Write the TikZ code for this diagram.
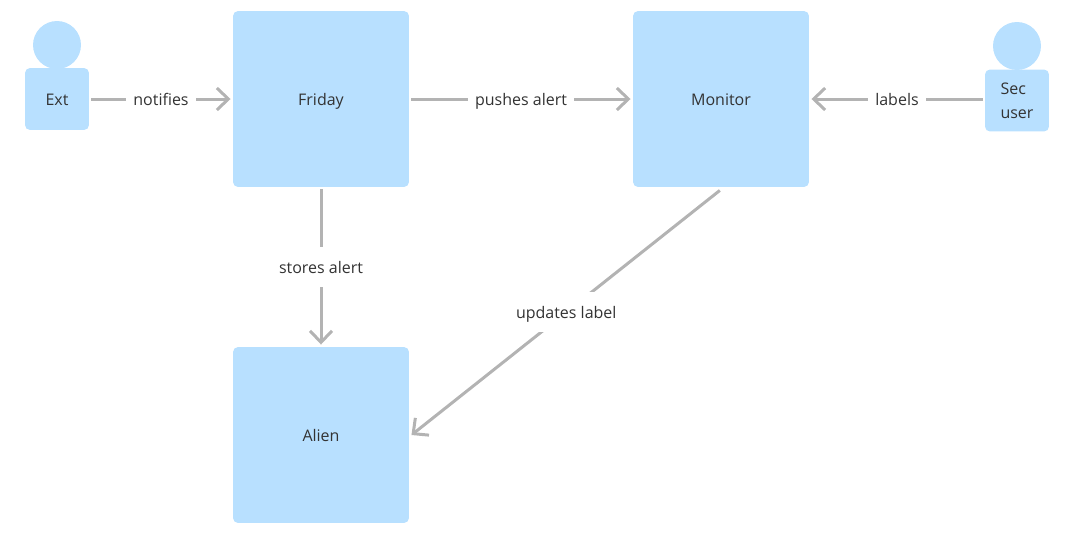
\documentclass[tikz,border=0pt]{standalone}
\usepackage{fontspec}
\setmainfont{Open Sans}
\usetikzlibrary{arrows.meta}
\definecolor{boxblue}{RGB}{184,224,255}
\definecolor{linegray}{RGB}{179,179,179}
\definecolor{textdark}{RGB}{51,51,51}
\tikzset{
    labeltext/.style={text=textdark, font=\fontsize{9.1}{13.6}\selectfont},
    oneline/.style={text height=7.2pt, text depth=0pt},
    bigbox/.style={fill=boxblue, rounded corners=0.1cm, minimum size=3.52cm, inner sep=0pt, outer sep=0.05cm, labeltext, oneline},
    actorbody/.style={fill=boxblue, rounded corners=0.1cm, minimum width=1.28cm, minimum height=1.24cm, inner sep=0pt, outer sep=0.05cm, labeltext},
    actorhead/.style={circle, fill=boxblue, minimum size=0.96cm, inner sep=0pt},
    flow/.style={draw=linegray, line width=0.06cm, -{Straight Barb[length=0.23cm, width=0.44cm, line width=0.06cm]}},
    flowlabel/.style={fill=white, inner xsep=0.14cm, inner ysep=0pt, minimum height=0.8cm, labeltext, oneline}
}
\begin{document}
\begin{tikzpicture}[x=0.02cm, y=-0.02cm]
    \useasboundingbox (0,0) rectangle (1090,535);
    \node[bigbox] (friday) at (321,99) {Friday};
    \node[bigbox] (monitor) at (721,99) {Monitor};
    \node[bigbox] (alien) at (321,435) {Alien};
    \node[actorhead] (exthead) at (57,45) {};
    \node[actorbody, oneline] (ext) at (57,99) {Ext};
    \node[actorhead] (sechead) at (1017,46) {};
    \node[actorbody, align=left] (sec) at (1017,100.5) {Sec\\user};
    \draw[flow] (ext) -- node[flowlabel] {notifies} (friday);
    \draw[flow] (friday) -- node[flowlabel] {pushes alert} (monitor);
    \draw[flow] (sec.west |- monitor) -- node[flowlabel] {labels} (monitor);
    \draw[flow] (friday) -- node[flowlabel] {stores alert} (alien);
    \draw[flow, shorten <=0.03cm] (monitor.south) -- node[flowlabel] {updates label} (alien.east);
\end{tikzpicture}
\end{document}
